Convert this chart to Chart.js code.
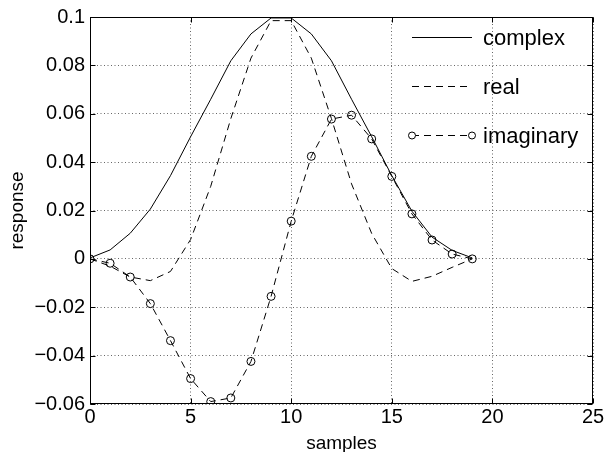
<!DOCTYPE html>
<html>
<head>
<meta charset="utf-8">
<script src="https://cdn.jsdelivr.net/npm/chart.js@4/dist/chart.umd.min.js"></script>
<style>
  html, body { margin: 0; padding: 0; background: #fff; }
  #wrap { width: 607px; height: 452px; }
</style>
</head>
<body>
<div id="wrap"><canvas id="myChart"></canvas></div>
<script>
// values
const samples = [0, 1, 2, 3, 4, 5, 6, 7, 8, 9, 10, 11, 12, 13, 14, 15, 16, 17, 18, 19]
const complexVals = [0.0004, 0.0037, 0.0106, 0.0206, 0.0344, 0.0505, 0.066, 0.0819, 0.093, 0.0996,
    0.0996, 0.093, 0.0819, 0.066, 0.0505, 0.0344, 0.0197, 0.009, 0.0035, 0.0004]
const realVals = [0, -0.003, -0.0075, -0.009, -0.0052, 0.008, 0.03, 0.058, 0.083, 0.0985,
    0.0985, 0.083, 0.058, 0.031, 0.0105, -0.004, -0.0093, -0.0072, -0.0035, 0]
const imagVals = [0, -0.0018, -0.0075, -0.0185, -0.0338, -0.0495, -0.059, -0.0575, -0.0424, -0.0155,
    0.0156, 0.0424, 0.0578, 0.0594, 0.0496, 0.0341, 0.0186, 0.0078, 0.002, 0]
const seriesNames = ['complex', 'real', 'imaginary']
const xTicks = [0, 5, 10, 15, 20, 25]
const yTicks = [-0.06, -0.04, -0.02, 0, 0.02, 0.04, 0.06, 0.08, 0.1]

const FONT = '"Liberation Sans", Arial, Helvetica, sans-serif'
Chart.defaults.color = '#000'
Chart.defaults.font.family = FONT

const toPoints = (vals) => samples.map((s, i) => ({ x: s, y: vals[i] }))

const fmt = (v) => parseFloat(v.toFixed(2)).toString().replace('-', '\u2212')

// box, inward ticks and the legend, MATLAB style
const frame = {
    id: 'frame',
    afterDraw(chart) {
        const ctx = chart.ctx
        const a = chart.chartArea
        const xs = chart.scales.x
        const ys = chart.scales.y
        const L = Math.round(a.left) + 0.5, R = Math.round(a.right) - 0.5
        const T = Math.round(a.top) + 0.5, B = Math.round(a.bottom) - 0.5
        ctx.save()
        ctx.strokeStyle = '#000'
        ctx.lineWidth = 1
        ctx.setLineDash([])
        ctx.strokeRect(L, T, R - L, B - T)
        ctx.beginPath()
        xTicks.forEach(t => {
            const px = Math.round(xs.getPixelForValue(t)) + 0.5
            ctx.moveTo(px, B); ctx.lineTo(px, B - 5)
            ctx.moveTo(px, T); ctx.lineTo(px, T + 5)
        })
        yTicks.forEach(t => {
            const py = Math.round(ys.getPixelForValue(t)) + 0.5
            ctx.moveTo(L, py); ctx.lineTo(L + 5, py)
            ctx.moveTo(R, py); ctx.lineTo(R - 5, py)
        })
        ctx.stroke()

        // legend
        ctx.font = '22px ' + FONT
        ctx.textBaseline = 'middle'
        ctx.fillStyle = '#000'
        chart.data.datasets.forEach((ds, i) => {
            const y = 37.5 + i * 49
            ctx.beginPath()
            ctx.setLineDash(ds.borderDash || [])
            ctx.moveTo(412, y); ctx.lineTo(472, y)
            ctx.stroke()
            ctx.setLineDash([])
            if (ds.pointRadius > 0) {
                [412, 472].forEach(px => {
                    ctx.beginPath()
                    ctx.arc(px, y, 3.5, 0, Math.PI * 2)
                    ctx.fillStyle = '#fff'
                    ctx.fill()
                    ctx.stroke()
                })
            }
            ctx.fillStyle = '#000'
            ctx.fillText(ds.label, 483, y + 1)
        })
        ctx.restore()
    }
}

const gridStyle = {
    color: 'rgba(0,0,0,0.6)',
    lineWidth: 1,
    drawTicks: false,
    tickLength: 0
}

new Chart(document.querySelector('#myChart'), {
    type: 'line',
    data: {
        datasets: [
            {
                label: seriesNames[0], data: toPoints(complexVals),
                borderColor: '#000', borderWidth: 1, pointRadius: 0, borderDash: []
            },
            {
                label: seriesNames[1], data: toPoints(realVals),
                borderColor: '#000', borderWidth: 1, pointRadius: 0, borderDash: [7, 5]
            },
            {
                label: seriesNames[2], data: toPoints(imagVals),
                borderColor: '#000', borderWidth: 1, borderDash: [7, 5],
                pointRadius: 4, pointHoverRadius: 4, pointBorderWidth: 1,
                pointBorderColor: '#000', pointBackgroundColor: 'rgba(0,0,0,0)'
            }
        ]
    },
    options: {
        responsive: true,
        maintainAspectRatio: false,
        devicePixelRatio: 1,
        animation: false,
        events: [],
        layout: { padding: { left: 0, right: 14, top: 12, bottom: 0 } },
        plugins: { legend: { display: false }, tooltip: { enabled: false } },
        elements: { line: { tension: 0 } },
        scales: {
            x: {
                type: 'linear', min: 0, max: 25,
                afterFit: (s) => { s.height = 48 },
                afterBuildTicks: (s) => { s.ticks = xTicks.map(v => ({ value: v })) },
                grid: { ...gridStyle },
                border: { display: false, dash: [1, 2.5] },
                ticks: { padding: 1, font: { size: 20 }, maxRotation: 0 },
                title: {
                    display: true, text: 'samples', font: { size: 19, lineHeight: 1 },
                    padding: { top: 0, bottom: -1 }
                }
            },
            y: {
                type: 'linear', min: -0.06, max: 0.1,
                afterFit: (s) => { s.width = 90 },
                afterBuildTicks: (s) => { s.ticks = yTicks.map(v => ({ value: v })) },
                grid: { ...gridStyle },
                border: { display: false, dash: [1, 2.5] },
                ticks: { padding: 5, font: { size: 20 }, callback: (v) => fmt(v) },
                title: {
                    display: true, text: 'response', font: { size: 19, lineHeight: 1 },
                    padding: { top: 8, bottom: 0 }
                }
            }
        }
    },
    plugins: [frame]
})
</script>
</body>
</html>
